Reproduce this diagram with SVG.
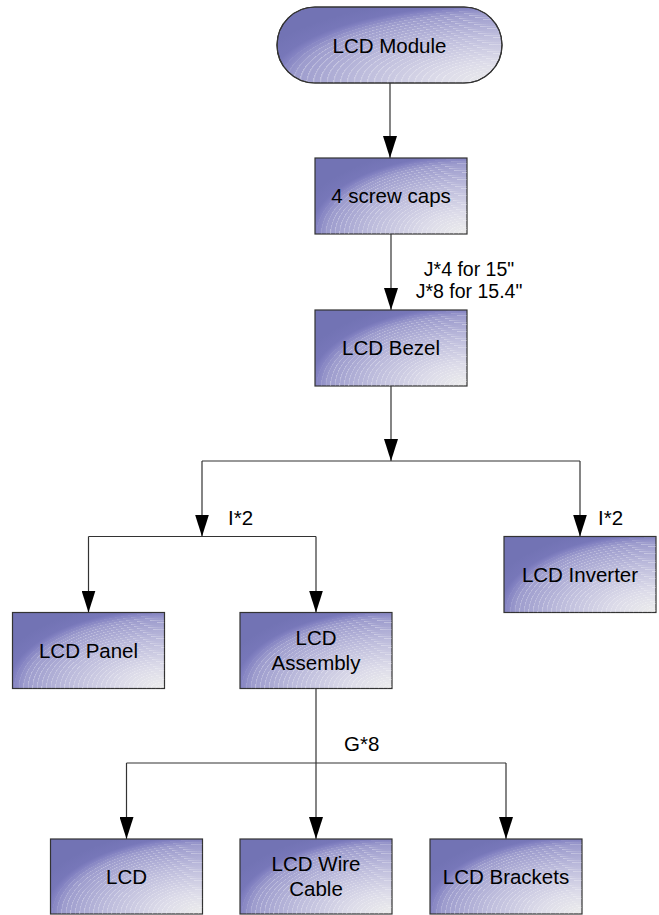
<svg xmlns="http://www.w3.org/2000/svg" width="659" height="915" viewBox="0 0 659 915">
<defs>
<radialGradient id="fillg" cx="1" cy="1" r="1.15" fx="1" fy="1">
<stop offset="0" stop-color="#ececec"/>
<stop offset="0.25" stop-color="#dcdbe9"/>
<stop offset="0.55" stop-color="#bdbcdc"/>
<stop offset="0.8" stop-color="#9d9ccd"/>
<stop offset="0.87" stop-color="#8281c1"/>
<stop offset="0.9" stop-color="#7777b9"/>
<stop offset="1" stop-color="#7273b4"/>
</radialGradient>
<radialGradient id="rings" cx="1" cy="1" r="0.03" fx="1" fy="1" spreadMethod="repeat">
<stop offset="0" stop-color="#fff" stop-opacity="0"/>
<stop offset="0.7" stop-color="#fff" stop-opacity="0"/>
<stop offset="1" stop-color="#fff" stop-opacity="0.35"/>
</radialGradient>
<radialGradient id="maskg" cx="1" cy="1" r="1.15" fx="1" fy="1">
<stop offset="0" stop-color="#fff"/>
<stop offset="0.78" stop-color="#fff"/>
<stop offset="0.88" stop-color="#000"/>
</radialGradient>
<mask id="rm" maskContentUnits="objectBoundingBox">
<rect width="1" height="1" fill="url(#maskg)"/>
</mask>
<marker id="ah" markerUnits="userSpaceOnUse" markerWidth="22" markerHeight="14" refX="22" refY="7" orient="auto">
<path d="M0,0 L22,7 L0,14 Z" fill="#000"/>
</marker>
<style>
.box{fill:url(#fillg);stroke:#333;stroke-width:1.2}
.ring{fill:url(#rings);stroke:none}
.t{font-family:"Liberation Sans",Arial,sans-serif;font-size:20.5px;fill:#000;text-anchor:middle}
.j{font-family:"Liberation Sans",Arial,sans-serif;font-size:19.5px;fill:#000;text-anchor:middle}
.lbl{font-family:"Liberation Sans",Arial,sans-serif;font-size:20.5px;fill:#000}
.c{fill:none;stroke:#333;stroke-width:1.2}
</style>
</defs>

<g id="connectors">
<line class="c" x1="390" y1="83" x2="390" y2="158" marker-end="url(#ah)"/>
<line class="c" x1="391" y1="234" x2="391" y2="310" marker-end="url(#ah)"/>
<line class="c" x1="391" y1="386" x2="391" y2="461" marker-end="url(#ah)"/>
<polyline class="c" points="202,461 580,461"/>
<line class="c" x1="202" y1="461" x2="202" y2="536.5" marker-end="url(#ah)"/>
<line class="c" x1="580" y1="461" x2="580" y2="536.5" marker-end="url(#ah)"/>
<polyline class="c" points="88.5,536.5 316,536.5"/>
<line class="c" x1="88.5" y1="536.5" x2="88.5" y2="612.5" marker-end="url(#ah)"/>
<line class="c" x1="316" y1="536.5" x2="316" y2="612.5" marker-end="url(#ah)"/>
<line class="c" x1="316" y1="688" x2="316" y2="839" marker-end="url(#ah)"/>
<polyline class="c" points="126.5,763 506,763"/>
<line class="c" x1="126.5" y1="763" x2="126.5" y2="839" marker-end="url(#ah)"/>
<line class="c" x1="506" y1="763" x2="506" y2="839" marker-end="url(#ah)"/>
<text class="j" x="469" y="276">J*4 for 15"</text>
<text class="j" x="469" y="298">J*8 for 15.4"</text>
<text class="lbl" x="228" y="525">I*2</text>
<text class="lbl" x="598" y="525">I*2</text>
<text class="lbl" x="344" y="751">G*8</text>
</g>

<g id="lcd-module">
<rect class="box" x="277" y="7" width="225" height="76" rx="38" ry="38"/>
<rect class="ring" x="277" y="7" width="225" height="76" rx="38" ry="38" mask="url(#rm)"/>
<rect x="277" y="7" width="225" height="76" rx="38" ry="38" fill="none" stroke="#333" stroke-width="1.2"/>
<text class="t" x="389.5" y="52.5">LCD Module</text>
</g>

<g id="screw-caps">
<rect class="box" x="315" y="158" width="152" height="76"/>
<rect class="ring" x="315" y="158" width="152" height="76" mask="url(#rm)"/>
<text class="t" x="391" y="203.3">4 screw caps</text>
</g>

<g id="lcd-bezel">
<rect class="box" x="315" y="310" width="152" height="76"/>
<rect class="ring" x="315" y="310" width="152" height="76" mask="url(#rm)"/>
<text class="t" x="391" y="355.3">LCD Bezel</text>
</g>

<g id="lcd-inverter">
<rect class="box" x="504" y="536.5" width="152" height="76"/>
<rect class="ring" x="504" y="536.5" width="152" height="76" mask="url(#rm)"/>
<text class="t" x="580" y="581.8">LCD Inverter</text>
</g>

<g id="lcd-panel">
<rect class="box" x="12.5" y="612.5" width="152" height="76"/>
<rect class="ring" x="12.5" y="612.5" width="152" height="76" mask="url(#rm)"/>
<text class="t" x="88.5" y="657.8">LCD Panel</text>
</g>

<g id="lcd-assembly">
<rect class="box" x="240" y="612.5" width="152" height="76"/>
<rect class="ring" x="240" y="612.5" width="152" height="76" mask="url(#rm)"/>
<text class="t" x="316" y="645.3">LCD</text>
<text class="t" x="316" y="670.3">Assembly</text>
</g>

<g id="lcd">
<rect class="box" x="50.5" y="839" width="152" height="75"/>
<rect class="ring" x="50.5" y="839" width="152" height="75" mask="url(#rm)"/>
<text class="t" x="126.5" y="883.8">LCD</text>
</g>

<g id="lcd-wire-cable">
<rect class="box" x="240" y="839" width="152" height="75"/>
<rect class="ring" x="240" y="839" width="152" height="75" mask="url(#rm)"/>
<text class="t" x="316" y="871">LCD Wire</text>
<text class="t" x="316" y="896">Cable</text>
</g>

<g id="lcd-brackets">
<rect class="box" x="430" y="839" width="152" height="75"/>
<rect class="ring" x="430" y="839" width="152" height="75" mask="url(#rm)"/>
<text class="t" x="506" y="883.8">LCD Brackets</text>
</g>
</svg>
